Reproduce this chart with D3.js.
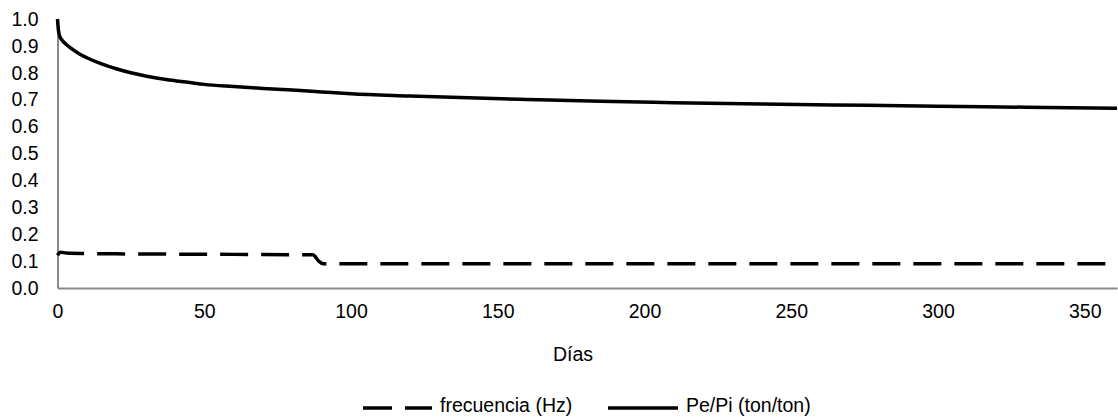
<!DOCTYPE html>
<html>
<head>
<meta charset="utf-8">
<script src="https://cdn.jsdelivr.net/npm/d3@7"></script>
<style>
  html, body { margin: 0; padding: 0; background: #fff; }
  svg { display: block; }
  text { font-family: "Liberation Sans", Arial, sans-serif; fill: #000; }
</style>
</head>
<body>
<svg id="chart" width="1118" height="418"></svg>
<script>
// Pe/Pi ratio (ton/ton) over time
const pepiDays  = [0, 0.3, 0.8, 1.5, 3, 5, 7.5, 10, 15, 20, 25, 30, 37, 45, 50, 60, 70, 80, 90, 100, 120, 140, 160, 185, 210, 240, 276, 300, 330, 361];
const pepiVals  = [1.0, 0.96, 0.935, 0.922, 0.905, 0.888, 0.87, 0.856, 0.833, 0.815, 0.80, 0.788, 0.775, 0.764, 0.757, 0.749, 0.742, 0.736, 0.729, 0.722, 0.714, 0.707, 0.701, 0.694, 0.689, 0.684, 0.679, 0.676, 0.672, 0.668];

// Frequency (Hz) over time
const freqDays  = [0, 1, 3, 10, 20, 40, 60, 80, 87, 89, 90.5, 120, 200, 300, 361];
const freqVals  = [0.122, 0.133, 0.13, 0.128, 0.127, 0.126, 0.125, 0.124, 0.124, 0.10, 0.09, 0.09, 0.09, 0.09, 0.09];

const xTicks = [0, 50, 100, 150, 200, 250, 300, 350];
const yTicks = [0, 0.1, 0.2, 0.3, 0.4, 0.5, 0.6, 0.7, 0.8, 0.9, 1.0];
const xTitle = "Días";
const seriesNames = ["frecuencia (Hz)", "Pe/Pi (ton/ton)"];

const svg = d3.select("#chart");
const plotLeft = 57.5, plotRight = 1117, plotTop = 19, plotBottom = 288;
const fontSize = 19.5;

const x = d3.scaleLinear().domain([0, 361]).range([plotLeft, plotRight]);
const y = d3.scaleLinear().domain([0, 1]).range([plotBottom, plotTop]);

// Axes: plain grey lines with labels, no tick marks
const yAxis = d3.axisLeft(y).tickValues(yTicks).tickFormat(d3.format(".1f")).tickSize(0).tickPadding(19);
const gy = svg.append("g").attr("transform", `translate(${plotLeft},0)`).call(yAxis);
gy.select(".domain").attr("stroke", "#898989").attr("stroke-width", 2);
gy.selectAll("text").attr("font-size", fontSize).attr("font-family", "Liberation Sans, Arial, sans-serif");

const xAxis = d3.axisBottom(x).tickValues(xTicks).tickFormat(d3.format("d")).tickSize(0).tickPadding(16);
const gx = svg.append("g").attr("transform", `translate(0,${plotBottom})`).call(xAxis);
gx.select(".domain").attr("stroke", "#898989").attr("stroke-width", 2);
gx.selectAll("text").attr("font-size", fontSize).attr("font-family", "Liberation Sans, Arial, sans-serif");

svg.append("text")
  .attr("x", 573).attr("y", 361)
  .attr("text-anchor", "middle").attr("font-size", fontSize)
  .text(xTitle);

const line = d3.line().x(d => x(d[0])).y(d => y(d[1])).curve(d3.curveMonotoneX);

// Frequency series (dashed)
svg.append("path")
  .datum(freqDays.map((d, i) => [d, freqVals[i]]))
  .attr("fill", "none").attr("stroke", "#000").attr("stroke-width", 3.5)
  .attr("stroke-dasharray", "28,13")
  .attr("d", line);

// Pe/Pi series (solid)
svg.append("path")
  .datum(pepiDays.map((d, i) => [d, pepiVals[i]]))
  .attr("fill", "none").attr("stroke", "#000").attr("stroke-width", 3.5)
  .attr("d", line);

// Legend
const lg = svg.append("g");
lg.append("line").attr("x1", 363).attr("x2", 432).attr("y1", 408).attr("y2", 408)
  .attr("stroke", "#000").attr("stroke-width", 3.5).attr("stroke-dasharray", "29,13");
lg.append("text").attr("x", 440).attr("y", 412).attr("font-size", fontSize).text(seriesNames[0]);
lg.append("line").attr("x1", 608).attr("x2", 678).attr("y1", 408).attr("y2", 408)
  .attr("stroke", "#000").attr("stroke-width", 3.5);
lg.append("text").attr("x", 686).attr("y", 412).attr("font-size", fontSize).text(seriesNames[1]);
</script>
</body>
</html>
